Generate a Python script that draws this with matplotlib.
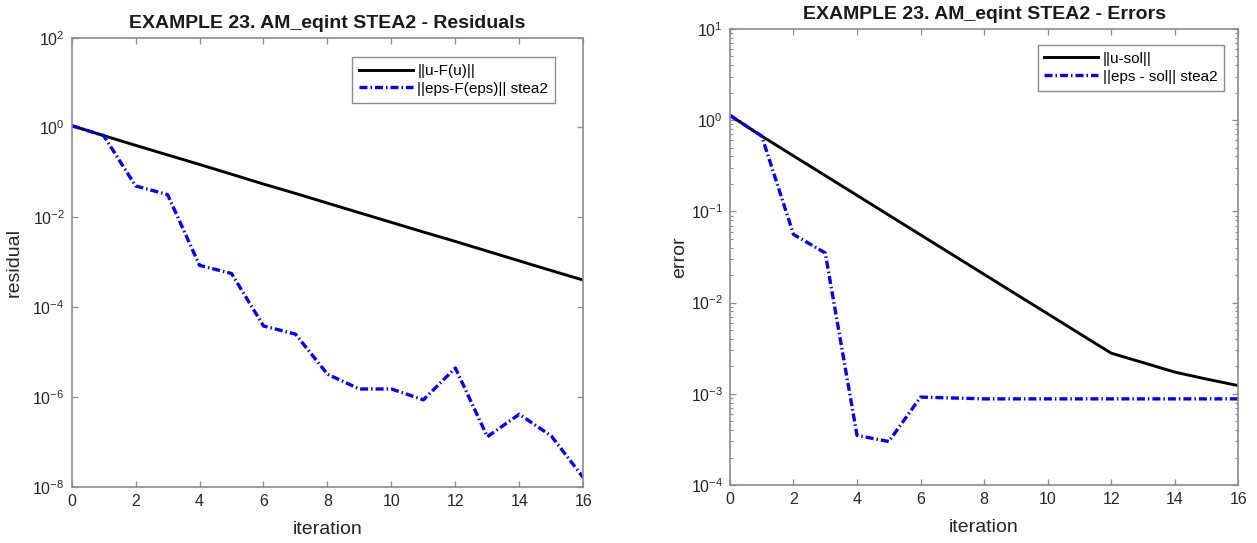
#!/usr/bin/env python3
"""Residuals and errors of STEA2 on example 23 (AM_eqint)."""

import matplotlib
matplotlib.use('Agg')
from matplotlib import pyplot as plot
from matplotlib.ticker import LogLocator, NullLocator, NullFormatter

plot.rcParams['font.family'] = ['Liberation Sans', 'DejaVu Sans']
plot.rcParams['mathtext.fontset'] = 'custom'
plot.rcParams['mathtext.rm'] = 'Liberation Sans'
plot.rcParams['axes.unicode_minus'] = False

# data
iteration = list(range(17))

residual_u = [1.1, 0.66, 0.40, 0.245, 0.150, 0.091, 0.055, 0.034, 0.0207,
              0.0126, 0.0077, 0.0047, 0.0029, 0.00176, 0.00107, 0.00065, 0.0004]
residual_eps = [1.1, 0.66, 0.05, 0.032, 8.5e-4, 5.6e-4, 3.8e-5, 2.5e-5, 3.2e-6,
                1.5e-6, 1.5e-6, 8.6e-7, 4.4e-6, 1.3e-7, 4.1e-7, 1.35e-7, 1.6e-8]

error_u = [1.13, 0.67, 0.406, 0.247, 0.150, 0.091, 0.0553, 0.0336, 0.0204,
           0.0124, 0.00755, 0.00458, 0.00279, 0.0022, 0.00173, 0.00145, 0.00123]
error_eps = [1.13, 0.67, 0.056, 0.035, 3.5e-4, 3.0e-4, 9.2e-4, 9.0e-4, 8.8e-4,
             8.8e-4, 8.8e-4, 8.8e-4, 8.8e-4, 8.8e-4, 8.8e-4, 8.8e-4, 8.8e-4]

x_ticks = list(range(0, 17, 2))

SPINE = '#8c8c8c'
TEXT = '#262626'
DASHDOT = (0, (2.4, 0.9, 0.45, 0.9))


def style(ax, ylim, yticks, minor):
    ax.set_yscale('log')
    ax.set_xlim(0, 16)
    ax.set_ylim(*ylim)
    ax.set_xticks(x_ticks)
    ax.set_yticks(yticks)
    if minor:
        ax.yaxis.set_minor_locator(LogLocator(base=10, subs=range(2, 10), numticks=50))
    else:
        ax.yaxis.set_minor_locator(NullLocator())
    ax.yaxis.set_minor_formatter(NullFormatter())
    ax.xaxis.set_minor_locator(NullLocator())
    for side in 'top', 'bottom', 'left', 'right':
        ax.spines[side].set_color(SPINE)
        ax.spines[side].set_linewidth(1.2)
    ax.tick_params(axis='both', which='major', direction='in', length=4, width=0.9,
                   color=SPINE, labelcolor=TEXT, labelsize=11.5, top=True, right=True, pad=5)
    ax.tick_params(axis='y', which='minor', direction='in', length=2.2, width=0.8,
                   color=SPINE, left=True, right=True)
    ax.set_xlabel('iteration', fontsize=14, color=TEXT, labelpad=9)


def legend(ax, anchor):
    ax.legend(loc='upper right', bbox_to_anchor=anchor, borderaxespad=0, fontsize=11,
              frameon=True, fancybox=False, edgecolor=SPINE, framealpha=1,
              handlelength=3.5, borderpad=0.45, labelspacing=0.25, handletextpad=0.3)


figure = plot.figure(figsize=(12.57, 5.43), dpi=100)
figure.set_facecolor('white')

ax1 = figure.add_axes([0.0570, 0.1037, 0.4070, 0.8269])
ax1.plot(iteration, residual_u, color='black', lw=2.1, label='||u-F(u)||')
ax1.plot(iteration, residual_eps, color='blue', lw=2.4, ls=DASHDOT, label='||eps-F(eps)|| stea2')
style(ax1, (1e-8, 1e2), [1e-8, 1e-6, 1e-4, 1e-2, 1e0, 1e2], minor=False)
ax1.set_ylabel('residual', fontsize=14, color=TEXT)
ax1.yaxis.set_label_coords(-0.095, 0.5)
ax1.set_title('EXAMPLE 23. AM_eqint STEA2 - Residuals', fontsize=14, fontweight='bold',
              color='#1a1a1a', pad=7)
legend(ax1, (0.9447, 0.957))

ax2 = figure.add_axes([0.5807, 0.1068, 0.4044, 0.8398])
ax2.plot(iteration, error_u, color='black', lw=2.1, label='||u-sol||')
ax2.plot(iteration, error_eps, color='blue', lw=2.4, ls=DASHDOT, label='||eps - sol|| stea2')
style(ax2, (1e-4, 1e1), [1e-4, 1e-3, 1e-2, 1e-1, 1e0, 1e1], minor=True)
ax2.set_ylabel('error', fontsize=14, color=TEXT)
ax2.yaxis.set_label_coords(-0.082, 0.5)
ax2.set_title('EXAMPLE 23. AM_eqint STEA2 - Errors', fontsize=14, fontweight='bold',
              color='#1a1a1a', pad=7)
legend(ax2, (0.972, 0.965))

figure.savefig('out.png', dpi=100)
